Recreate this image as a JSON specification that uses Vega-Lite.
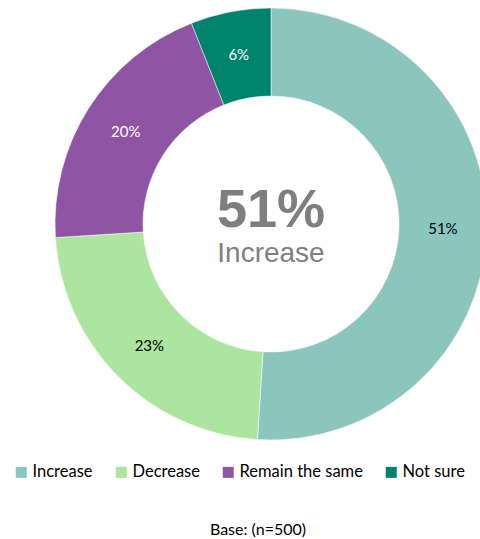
{
  "$schema": "https://vega.github.io/schema/vega-lite/v6.json",
  "width": 480,
  "height": 515,
  "padding": {"left": 0, "top": 0, "right": 0, "bottom": 24},
  "autosize": "none",
  "background": "white",
  "title": {
    "text": "Base: (n=500)",
    "orient": "bottom",
    "anchor": "middle",
    "offset": 7,
    "dx": 18,
    "baseline": "top",
    "font": "Lato",
    "fontSize": 16,
    "fontWeight": "normal",
    "color": "#000000"
  },
  "data": {
    "values": [
      {"answer": "Increase", "pct": 51, "idx": 1},
      {"answer": "Decrease", "pct": 23, "idx": 2},
      {"answer": "Remain the same", "pct": 20, "idx": 3},
      {"answer": "Not sure", "pct": 6, "idx": 4}
    ]
  },
  "transform": [{"calculate": "datum.pct + '%'", "as": "lbl"}],
  "encoding": {
    "theta": {"field": "pct", "type": "quantitative", "stack": true},
    "order": {"field": "idx", "type": "quantitative"},
    "color": {
      "field": "answer",
      "type": "nominal",
      "scale": {
        "domain": ["Increase", "Decrease", "Remain the same", "Not sure"],
        "range": ["#8AC6BD", "#ABE59F", "#8F54A3", "#00836C"]
      },
      "legend": {
        "title": null,
        "orient": "none",
        "direction": "horizontal",
        "legendX": 13,
        "legendY": 464,
        "symbolType": "square",
        "symbolSize": 121,
        "symbolStrokeWidth": 0,
        "symbolOpacity": 1,
        "labelFont": "Lato",
        "labelFontSize": 16.5,
        "labelColor": "#000000",
        "labelOffset": 3,
        "columnPadding": 20,
        "padding": 0
      }
    }
  },
  "layer": [
    {
      "mark": {"type": "arc", "x": 271, "y": 224, "outerRadius": 216, "innerRadius": 128, "stroke": "white", "strokeWidth": 0.5}
    },
    {
      "mark": {"type": "text", "x": 271, "y": 224, "radius": 172, "font": "Lato", "fontSize": 15, "align": "center", "baseline": "middle"},
      "encoding": {
        "text": {"field": "lbl", "type": "nominal"},
        "color": {
          "condition": {"test": "datum.answer === 'Remain the same' || datum.answer === 'Not sure'", "value": "#FFFFFF"},
          "value": "#000000"
        }
      }
    },
    {
      "transform": [{"filter": "datum.answer === 'Increase'"}],
      "mark": {"type": "text", "x": 271, "y": 224, "radius": 0, "dy": 3, "font": "Liberation Sans", "fontSize": 54, "fontWeight": "bold", "align": "center", "baseline": "alphabetic"},
      "encoding": {
        "text": {"field": "lbl", "type": "nominal"},
        "color": {"value": "#7F7F7F"}
      }
    },
    {
      "transform": [{"filter": "datum.answer === 'Increase'"}],
      "mark": {"type": "text", "x": 271, "y": 224, "radius": 0, "dy": 38, "font": "Liberation Sans", "fontSize": 28, "align": "center", "baseline": "alphabetic"},
      "encoding": {
        "text": {"field": "answer", "type": "nominal"},
        "color": {"value": "#7F7F7F"}
      }
    }
  ]
}
